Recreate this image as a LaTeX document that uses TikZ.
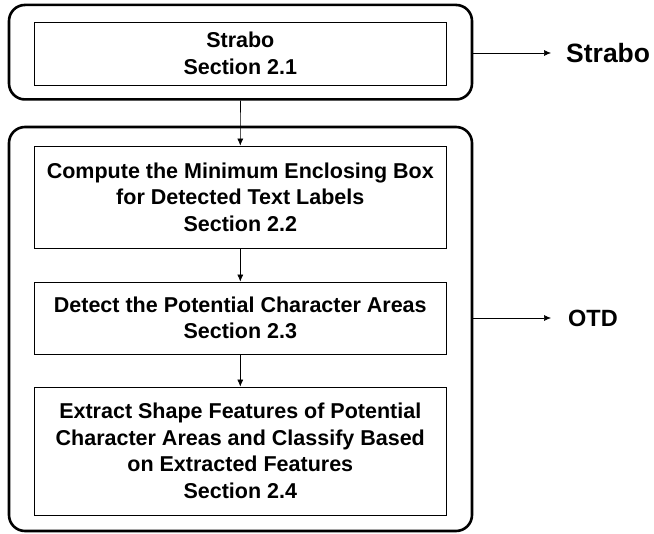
\documentclass[tikz,border=0pt]{standalone}
\usepackage{fontspec}
\setmainfont{Liberation Sans}
\usetikzlibrary{arrows.meta}
\begin{document}
\begin{tikzpicture}[x=1pt,y=-1pt,
  outer/.style={draw, line width=2.6pt, rounded corners=16pt},
  stepbox/.style={draw, line width=0.8pt, align=center, font=\bfseries\fontsize{21.5}{26.5}\selectfont},
  conn/.style={draw, line width=0.6pt, -{Latex[length=7pt,width=6pt]}},
  side/.style={font=\bfseries, anchor=west, inner sep=0pt}]
\useasboundingbox (0,0) rectangle (654,534);
\node[outer, minimum width=463pt, minimum height=94.5pt] (o1) at (240.5,52.2) {};
\node[outer, minimum width=463pt, minimum height=404pt] (o2) at (240.5,329) {};
\node[stepbox, minimum width=411.5pt, minimum height=63pt] (b1) at (240.3,53.5) {Strabo\\Section 2.1};
\node[stepbox, minimum width=411.5pt, minimum height=102pt] (b2) at (240.3,197) {Compute the Minimum Enclosing Box\\for Detected Text Labels\\Section 2.2};
\node[stepbox, minimum width=411.5pt, minimum height=72pt] (b3) at (240.3,318) {Detect the Potential Character Areas\\Section 2.3};
\node[stepbox, minimum width=411.5pt, minimum height=128pt] (b4) at (240.3,451) {Extract Shape Features of Potential\\Character Areas and Classify Based\\on Extracted Features\\Section 2.4};
\node[side, font=\bfseries\fontsize{26.5}{30}\selectfont] (s1) at (566,53) {Strabo};
\node[side, font=\bfseries\fontsize{23.5}{27}\selectfont] (s2) at (568,318) {OTD};
\draw[conn] (o1.south) -- (b2.north);
\draw[conn] (b2) -- (b3);
\draw[conn] (b3) -- (b4);
\draw[conn] (o1.east |- s1) -- (551,53);
\draw[conn] (o2.east |- s2) -- (551,318);
\end{tikzpicture}
\end{document}
